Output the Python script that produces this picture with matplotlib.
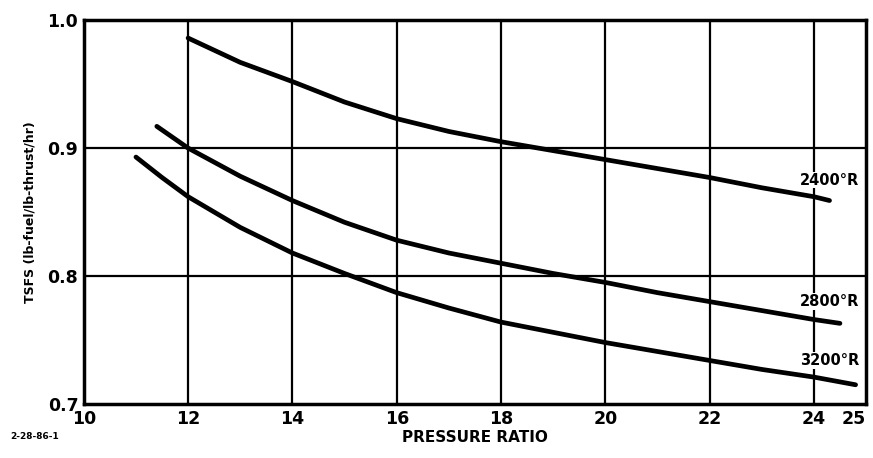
import matplotlib.pyplot as plt

# ===== DATA =====
pr_2400 = [12.0, 13.0, 14.0, 15.0, 16.0, 17.0, 18.0, 19.0, 20.0, 21.0, 22.0, 23.0, 24.0, 24.3]
tsfc_2400 = [0.986, 0.967, 0.952, 0.936, 0.923, 0.913, 0.905, 0.898, 0.891, 0.884, 0.877, 0.869, 0.862, 0.859]

pr_2800 = [11.4, 12.0, 13.0, 14.0, 15.0, 16.0, 17.0, 18.0, 19.0, 20.0, 21.0, 22.0, 23.0, 24.0, 24.5]
tsfc_2800 = [0.917, 0.900, 0.878, 0.859, 0.842, 0.828, 0.818, 0.810, 0.802, 0.795, 0.787, 0.780, 0.773, 0.766, 0.763]

pr_3200 = [11.0, 11.5, 12.0, 13.0, 14.0, 15.0, 16.0, 17.0, 18.0, 19.0, 20.0, 21.0, 22.0, 23.0, 24.0, 24.8]
tsfc_3200 = [0.893, 0.877, 0.862, 0.838, 0.818, 0.802, 0.787, 0.775, 0.764, 0.756, 0.748, 0.741, 0.734, 0.727, 0.721, 0.715]

curve_labels = ["2400°R", "2800°R", "3200°R"]
label_x = [24.3, 24.3, 24.3]
label_y = [0.875, 0.780, 0.734]

x_ticks = [10, 12, 14, 16, 18, 20, 22, 24, 25]
y_ticks = [0.7, 0.8, 0.9, 1.0]

plt.rcParams["font.family"] = ["Liberation Sans Narrow", "DejaVu Sans"]

# ===== DRAW =====
fig = plt.figure(figsize=(8.73, 4.58), dpi=100)
ax = fig.add_axes([0.096, 0.118, 0.896, 0.838])

for x in [12, 14, 16, 18, 20, 22, 24]:
    ax.axvline(x, color="black", lw=1.6, zorder=1)
for y in [0.8, 0.9]:
    ax.axhline(y, color="black", lw=1.6, zorder=1)

for xs, ys in [(pr_2400, tsfc_2400), (pr_2800, tsfc_2800), (pr_3200, tsfc_3200)]:
    ax.plot(xs, ys, color="black", lw=3.4, solid_capstyle="round",
            solid_joinstyle="round", zorder=3)

for lbl, lx, ly in zip(curve_labels, label_x, label_y):
    ax.text(lx, ly, lbl, ha="center", va="center", fontsize=10.5,
            fontweight="bold", zorder=4,
            bbox=dict(facecolor="white", edgecolor="none", pad=0.5))

ax.set_xlim(10, 25)
ax.set_ylim(0.7, 1.0)
ax.set_xticks(x_ticks)
ax.set_xticklabels([str(t) for t in x_ticks])
ax.set_yticks(y_ticks)
ax.set_yticklabels(["0.7", "0.8", "0.9", "1.0"])
ax.tick_params(length=0, labelsize=12.5, pad=4)
for t in ax.get_xticklabels() + ax.get_yticklabels():
    t.set_fontweight("bold")
# last label sits at the right edge; keep it inside the figure
ax.get_xticklabels()[-1].set_horizontalalignment("right")
ax.get_xticklabels()[-1].set_x(25.15)

for spine in ax.spines.values():
    spine.set_linewidth(2.5)

ax.set_xlabel("PRESSURE RATIO", fontsize=11, fontweight="bold", labelpad=2)
ax.set_ylabel("TSFS (lb-fuel/lb-thrust/hr)", fontsize=9, fontweight="bold", labelpad=8)

fig.text(0.012, 0.046, "2-28-86-1", fontsize=6.5, fontweight="bold", va="center")

plt.savefig("out.png", dpi=100)
